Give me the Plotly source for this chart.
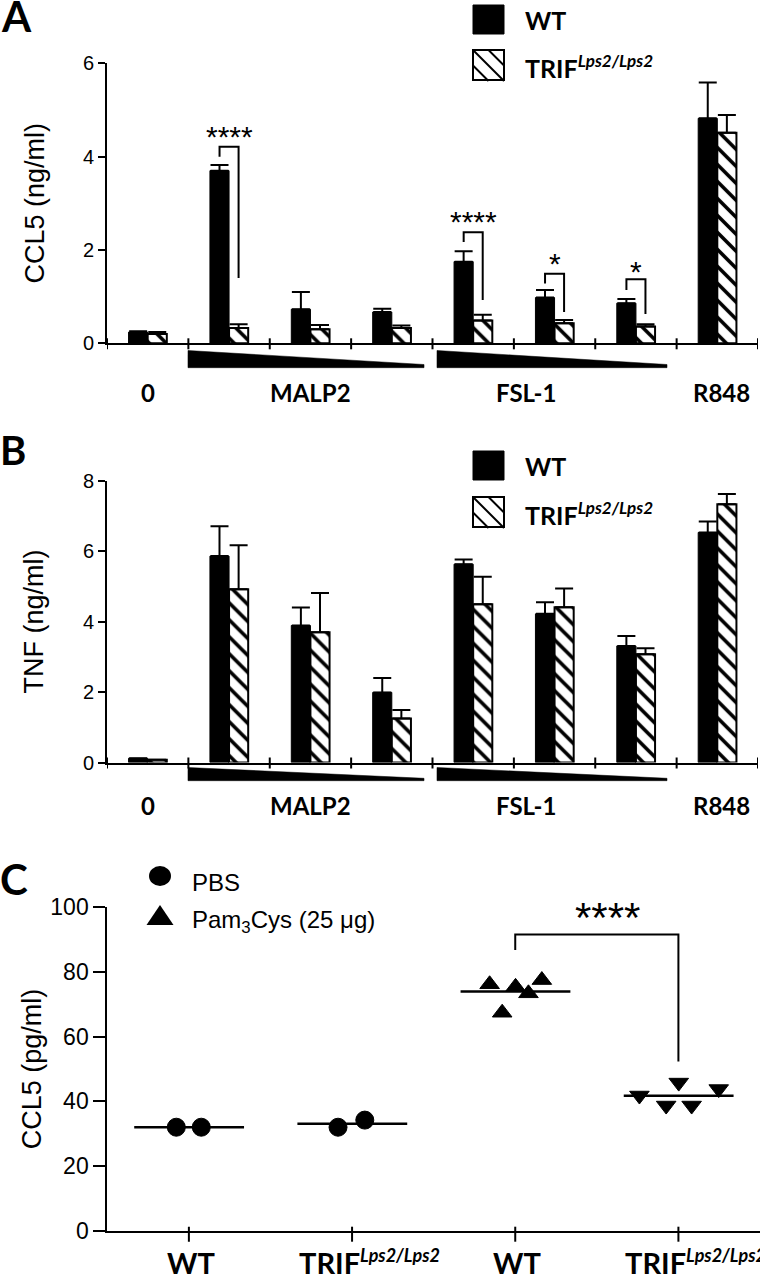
import plotly.graph_objects as go

W, H = 760, 1279

# ---------------- Panels A / B : 8 stimulation conditions ----------------
cond_pos = [0, 1, 2, 3, 4, 5, 6, 7]          # 0 | MALP2 (3 doses) | FSL-1 (3 doses) | R848
group_labels = ['0', 'MALP2', 'FSL-1', 'R848']
group_label_pos = [0, 2, 4.65, 7.05]

ccl5_wt = [0.24, 3.70, 0.73, 0.67, 1.75, 0.98, 0.86, 4.82]
ccl5_wt_err = [0.02, 0.12, 0.37, 0.07, 0.22, 0.16, 0.09, 0.77]
ccl5_trif = [0.20, 0.33, 0.30, 0.33, 0.49, 0.43, 0.36, 4.51]
ccl5_trif_err = [0.04, 0.08, 0.09, 0.05, 0.12, 0.07, 0.05, 0.38]

tnf_wt = [0.12, 5.86, 3.89, 1.99, 5.63, 4.22, 3.31, 6.53]
tnf_wt_err = [0.0, 0.85, 0.51, 0.41, 0.13, 0.33, 0.28, 0.31]
tnf_trif = [0.08, 4.92, 3.70, 1.25, 4.49, 4.41, 3.07, 7.33]
tnf_trif_err = [0.0, 1.25, 1.11, 0.24, 0.78, 0.53, 0.17, 0.29]

# significance brackets (panel A)
sig_a_pos = [1, 4, 5, 6]
sig_a_top = [4.21, 2.38, 1.49, 1.37]
sig_a_left_end = [4.00, 2.17, 1.28, 1.14]
sig_a_right_end = [1.40, 0.93, 0.67, 0.63]
sig_a_label = ['****', '****', '*', '*']
sig_a_label_y = [4.53, 2.71, 1.82, 1.64]

# ---------------- Panel C ----------------
c_pos = [0, 1, 2, 3]
TRIF_C = '<b>TRIF<sup><span style="font-size:18px"><i>Lps2/Lps2</i></span></sup></b>'
c_tick_labels = ['<b>WT</b>', TRIF_C, '<b>WT</b>', TRIF_C]
pbs_wt = [32.0, 32.0]
pbs_wt_jit = [-0.077, 0.076]
pbs_trif = [32.0, 34.2]
pbs_trif_jit = [-0.086, 0.078]
pam_wt = [76.2, 75.4, 73.4, 77.5, 67.4]
pam_wt_jit = [-0.157, 0.002, 0.081, 0.163, -0.080]
pam_trif = [41.8, 45.8, 38.7, 38.7, 43.8]
pam_trif_jit = [-0.239, 0.002, -0.075, 0.081, 0.247]

sig_c_from, sig_c_to = 2, 3
sig_c_top, sig_c_left_end, sig_c_right_end = 91.6, 86.8, 52.3
sig_c_label, sig_c_label_x, sig_c_label_y = '****', 2.565, 99.2

# ---------------- helpers ----------------
def px(x):
    return x / W

def py(y):
    return 1 - y / H

SANS = 'Liberation Sans, Arial, sans-serif'
BOLD = 'Lato, Carlito, sans-serif'

A_X = [px(107), px(758)]
A_Y = [py(343.3), py(63.3)]
B_Y = [py(762.5), py(480.7)]
C_X = [px(107.3), 1.0]
C_Y = [py(1230.7), py(907.3)]

fig = go.Figure()

hatch = dict(shape='\\', fgcolor='black', bgcolor='white', size=12, solidity=0.3)


def add_bars(xa, ya, wt, wt_err, trif, trif_err):
    fig.add_trace(go.Bar(
        x=cond_pos, y=wt, name='WT', xaxis=xa, yaxis=ya, showlegend=False,
        marker=dict(color='black', line=dict(color='black', width=1)),
        error_y=dict(type='data', symmetric=False, array=wt_err,
                     arrayminus=[0] * len(wt), color='black', thickness=2, width=9)))
    fig.add_trace(go.Bar(
        x=cond_pos, y=trif, name='TRIF Lps2/Lps2', xaxis=xa, yaxis=ya, showlegend=False,
        marker=dict(color='white', line=dict(color='black', width=2), pattern=hatch),
        error_y=dict(type='data', symmetric=False, array=trif_err,
                     arrayminus=[0] * len(trif), color='black', thickness=2, width=9)))


add_bars('x', 'y', ccl5_wt, ccl5_wt_err, ccl5_trif, ccl5_trif_err)
add_bars('x2', 'y2', tnf_wt, tnf_wt_err, tnf_trif, tnf_trif_err)

# panel C points
def add_points(pos, vals, jit, symbol, size, name):
    fig.add_trace(go.Scatter(
        x=[pos + j for j in jit], y=vals, mode='markers', name=name,
        xaxis='x3', yaxis='y3', showlegend=False,
        marker=dict(symbol=symbol, size=size, color='black',
                    line=dict(color='black', width=1))))
    m = sum(vals) / len(vals)
    fig.add_trace(go.Scatter(
        x=[pos - 0.335, pos + 0.338], y=[m, m], mode='lines', xaxis='x3', yaxis='y3',
        showlegend=False, line=dict(color='black', width=2.5), hoverinfo='skip'))


add_points(c_pos[0], pbs_wt, pbs_wt_jit, 'circle', 18, 'PBS WT')
add_points(c_pos[1], pbs_trif, pbs_trif_jit, 'circle', 18, 'PBS TRIF')
add_points(c_pos[2], pam_wt, pam_wt_jit, 'triangle-up', 17, 'Pam3Cys WT')
add_points(c_pos[3], pam_trif, pam_trif_jit, 'triangle-down', 17, 'Pam3Cys TRIF')

shapes = []
annotations = []

# crossing x ticks for A/B (category boundaries)
for xa, ya in [('x', 'y domain'), ('x2', 'y2 domain')]:
    for k in range(9):
        b = k - 0.5
        shapes.append(dict(type='line', xref=xa, yref=ya, x0=b, x1=b,
                           ysizemode='pixel', yanchor=0, y0=-6, y1=5,
                           line=dict(color='black', width=2)))
# crossing ticks for C
for p in c_pos:
    shapes.append(dict(type='line', xref='x3', yref='y3 domain', x0=p, x1=p,
                       ysizemode='pixel', yanchor=0, y0=-11, y1=4,
                       line=dict(color='black', width=2)))

# dose wedges
def wedge(xa, x0, x1, top, bottom, tip):
    return dict(type='path', xref=xa, yref='paper', fillcolor='black',
                line=dict(color='black', width=0.5),
                path=f'M {x0},{py(top)} L {x1},{py(tip)} L {x1},{py(bottom)} L {x0},{py(bottom)} Z')


for xa, top, bottom, tip in [('x', 350.5, 367.7, 364.5), ('x2', 767.5, 780.7, 778.3)]:
    shapes.append(wedge(xa, 0.495, 3.396, top, bottom, tip))
    shapes.append(wedge(xa, 3.555, 6.382, top, bottom, tip))

# group labels A/B
for ya_px in [392, 805.5]:
    for lab, lx in zip(group_labels, group_label_pos):
        annotations.append(dict(xref='x', yref='paper', x=lx, y=py(ya_px), text=f'<b>{lab}</b>',
                                showarrow=False, xanchor='center', yanchor='middle',
                                font=dict(family=BOLD, size=24, color='black')))

# significance brackets panel A
for g, top, le, re, lab, ly in zip(sig_a_pos, sig_a_top, sig_a_left_end, sig_a_right_end,
                                  sig_a_label, sig_a_label_y):
    xl, xr = g - 0.117, g + 0.117
    shapes.append(dict(type='path', xref='x', yref='y', line=dict(color='black', width=2),
                       path=f'M {xl},{le} L {xl},{top} L {xr},{top} L {xr},{re}'))
    annotations.append(dict(xref='x', yref='y', x=g, y=ly, text=lab, showarrow=False,
                            xanchor='center', yanchor='middle', yshift=-5,
                            font=dict(family=SANS, size=30, color='black')))

# significance bracket panel C
shapes.append(dict(type='path', xref='x3', yref='y3', line=dict(color='black', width=2),
                   path=f'M {sig_c_from},{sig_c_left_end} L {sig_c_from},{sig_c_top} '
                        f'L {sig_c_to},{sig_c_top} L {sig_c_to},{sig_c_right_end}'))
annotations.append(dict(xref='x3', yref='y3', x=sig_c_label_x, y=sig_c_label_y, text=sig_c_label,
                        showarrow=False, xanchor='center', yanchor='middle', yshift=-8,
                        font=dict(family=SANS, size=42, color='black')))

# legends A and B (custom swatches)
def hatched_box(x0, y0, x1, y1):
    out = [dict(type='rect', xref='paper', yref='paper', x0=px(x0), x1=px(x1),
                y0=py(y1), y1=py(y0), fillcolor='white', line=dict(color='black', width=2))]
    s = x1 - x0
    for c in [-0.5 * s, 0, 0.5 * s]:
        xa_ = max(x0, x0 - c)
        xb_ = min(x1, x1 - c)
        ya_ = y0 + (xa_ - x0) + c
        yb_ = y0 + (xb_ - x0) + c
        out.append(dict(type='line', xref='paper', yref='paper', x0=px(xa_), x1=px(xb_),
                        y0=py(ya_), y1=py(yb_), line=dict(color='black', width=2)))
    return out


for wt_top, trif_top, wt_txt, trif_txt in [(5, 50, 20.5, 67), (451, 497, 466, 513)]:
    shapes.append(dict(type='rect', xref='paper', yref='paper', x0=px(473), x1=px(504),
                       y0=py(wt_top + 29), y1=py(wt_top), fillcolor='black',
                       line=dict(color='black', width=1)))
    shapes.extend(hatched_box(473, trif_top, 504, trif_top + 30))
    annotations.append(dict(xref='paper', yref='paper', x=px(523), y=py(wt_txt), text='<b>WT</b>',
                            showarrow=False, xanchor='left', yanchor='middle',
                            font=dict(family=BOLD, size=25, color='black')))
    annotations.append(dict(xref='paper', yref='paper', x=px(523), y=py(trif_txt),
                            text='<b>TRIF<sup><span style="font-size:17px"><i>Lps2/Lps2</i></span></sup></b>',
                            showarrow=False, xanchor='left', yanchor='middle',
                            font=dict(family=BOLD, size=25, color='black')))

# legend C
shapes.append(dict(type='circle', xref='paper', yref='paper', x0=px(149), x1=px(171),
                   y0=py(886), y1=py(866), fillcolor='black', line=dict(color='black', width=0)))
shapes.append(dict(type='path', xref='paper', yref='paper', fillcolor='black',
                   line=dict(color='black', width=0),
                   path=f'M {px(160)},{py(905)} L {px(173.5)},{py(925)} L {px(146.5)},{py(925)} Z'))
annotations.append(dict(xref='paper', yref='paper', x=px(190), y=py(882), text='PBS',
                        showarrow=False, xanchor='left', yanchor='middle',
                        font=dict(family=SANS, size=24, color='black')))
annotations.append(dict(xref='paper', yref='paper', x=px(190), y=py(921.7),
                        text='Pam<sub>3</sub>Cys (25 μg)',
                        showarrow=False, xanchor='left', yanchor='middle',
                        font=dict(family=SANS, size=24, color='black')))

# panel C category labels
for p, lab in zip(c_pos, c_tick_labels):
    if 'TRIF' in lab:
        annotations.append(dict(xref='x3', yref='paper', x=p, y=py(1262), text=lab, showarrow=False,
                                xanchor='left', yanchor='middle', xshift=-55,
                                font=dict(family=BOLD, size=29, color='black')))
    else:
        annotations.append(dict(xref='x3', yref='paper', x=p, y=py(1262), text=lab, showarrow=False,
                                xanchor='center', yanchor='middle', xshift=2,
                                font=dict(family=BOLD, size=29, color='black')))

# panel letters
for letter, lx, ly, fs in [('A', 16.5, 16, 42), ('B', 13, 450, 40), ('C', 13.5, 879, 42)]:
    annotations.append(dict(xref='paper', yref='paper', x=px(lx), y=py(ly), text=f'<b>{letter}</b>',
                            showarrow=False, xanchor='center', yanchor='middle',
                            font=dict(family=BOLD, size=fs, color='black')))

xbase = dict(showline=True, linecolor='black', linewidth=2, showgrid=False, zeroline=False,
             ticks='', showticklabels=False, fixedrange=True, automargin=False)
ybase = dict(showline=True, linecolor='black', linewidth=2, showgrid=False, zeroline=False,
             ticks='outside', tickwidth=2, tickcolor='black', fixedrange=True, automargin=False)

fig.update_layout(
    template='none',
    width=W, height=H, autosize=False,
    margin=dict(l=0, r=0, t=0, b=0, pad=0),
    paper_bgcolor='white', plot_bgcolor='white',
    barmode='group', bargap=0.53, bargroupgap=0,
    showlegend=False,
    xaxis=dict(xbase, domain=A_X, range=[-0.5, 7.5], anchor='y'),
    yaxis=dict(ybase, domain=A_Y, range=[0, 6], tickvals=[0, 2, 4, 6], ticklen=7, anchor='x',
               tickfont=dict(family=SANS, size=20, color='black'),
               title=dict(text='CCL5 (ng/ml)', font=dict(family=SANS, size=27, color='black'),
                          standoff=30)),
    xaxis2=dict(xbase, domain=A_X, range=[-0.5, 7.5], anchor='y2'),
    yaxis2=dict(ybase, domain=B_Y, range=[0, 8], tickvals=[0, 2, 4, 6, 8], ticklen=7, anchor='x2',
                tickfont=dict(family=SANS, size=20, color='black'),
                title=dict(text='TNF (ng/ml)', font=dict(family=SANS, size=27, color='black'),
                           standoff=31)),
    xaxis3=dict(xbase, domain=C_X, range=[-0.5, 3.5], anchor='y3'),
    yaxis3=dict(ybase, domain=C_Y, range=[0, 100], tickvals=[0, 20, 40, 60, 80, 100], ticklen=12,
                anchor='x3', tickfont=dict(family=SANS, size=23, color='black'),
                title=dict(text='CCL5 (pg/ml)', font=dict(family=SANS, size=27, color='black'),
                           standoff=1)),
    shapes=shapes,
    annotations=annotations,
)

fig.write_html('out.html', config={'displayModeBar': False},
               post_script="document.body.style.margin='0px';")
